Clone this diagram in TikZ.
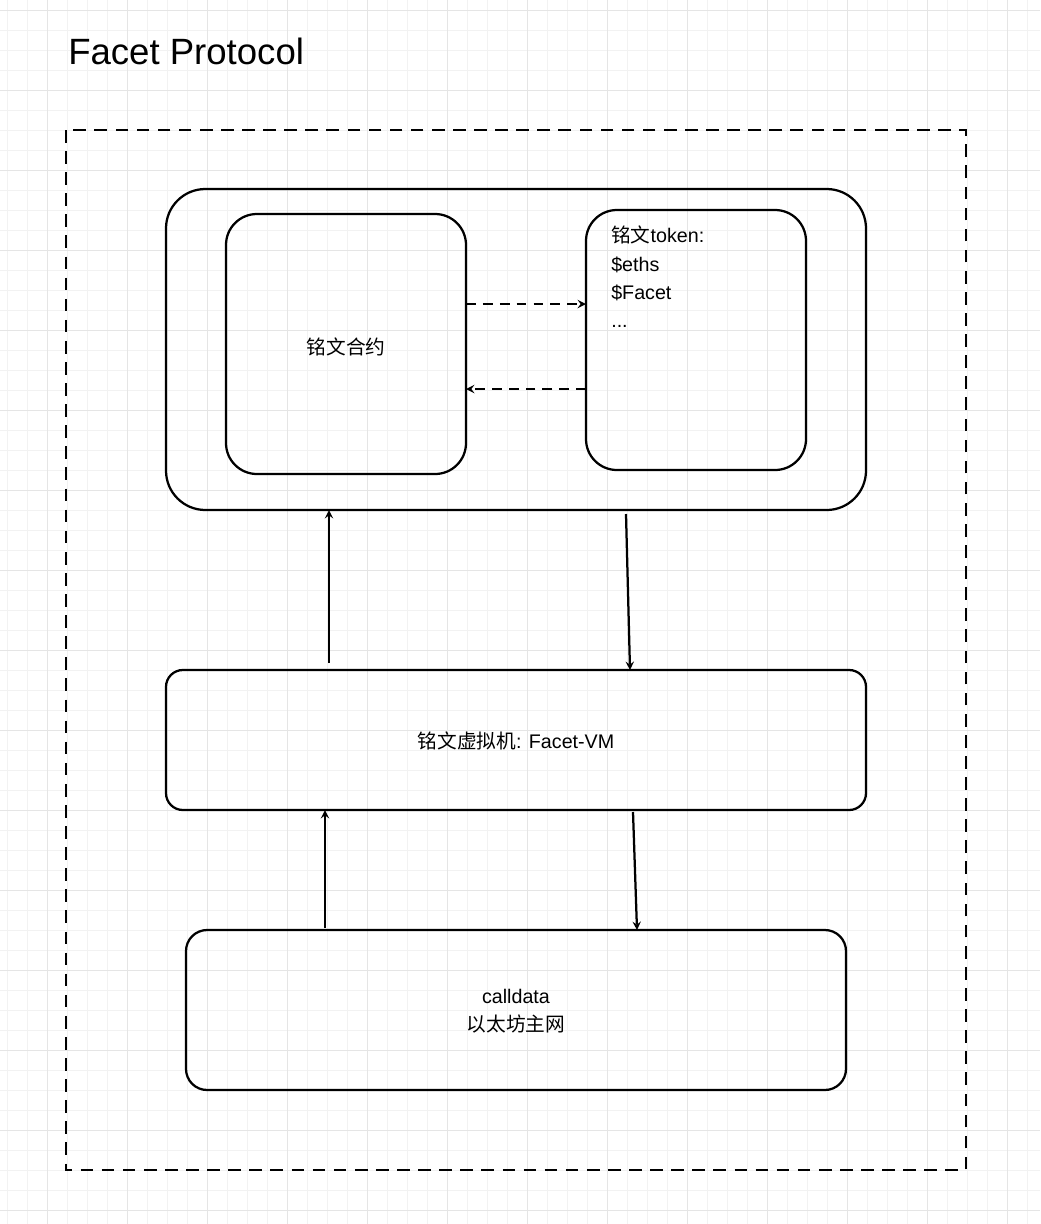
\documentclass[tikz,border=0pt]{standalone}
\usepackage{fontspec}
\setmainfont{Liberation Sans}
\newfontfamily\cjk{Noto Sans CJK SC}
\usetikzlibrary{positioning}
\newcommand{\zh}[1]{{\cjk #1}}
\begin{document}
\begin{tikzpicture}[x=0.025cm,y=-0.025cm,
    box/.style={draw, line width=1.6pt, rounded corners=#1},
    box/.default={15pt},
    flow/.style={->, >=stealth, line width=1.6pt},
    txt/.style={font=\fontsize{14}{20}\selectfont, align=center}]
    \useasboundingbox (0,0) rectangle (1040,1224);
    % background grid
    \foreach \x in {7,27,...,1040} {\draw[black!5, line width=0.5pt] (\x,0) -- (\x,1224);}
    \foreach \y in {10,30,...,1224} {\draw[black!5, line width=0.5pt] (0,\y) -- (1040,\y);}
    \foreach \x in {47,127,...,1040} {\draw[black!10, line width=0.7pt] (\x,0) -- (\x,1224);}
    \foreach \y in {10,90,...,1224} {\draw[black!10, line width=0.7pt] (0,\y) -- (1040,\y);}
    \node[anchor=base west, inner sep=0pt, font=\fontsize{26}{30}\selectfont] (title) at (68,64) {Facet Protocol};
    \draw[line width=1.6pt, dash pattern=on 9pt off 6pt] (66,130) rectangle (966,1170);
    % top container
    \draw[box=28pt] (166,189) rectangle (866,510);
    \coordinate (topin) at (329,510);
    \coordinate (topout) at (626,514);
    \draw[box=22pt] (226,214) rectangle (466,474);
    \node[txt] (contract) at (346,347) {\zh{铭文合约}};
    \draw[box=22pt] (586,210) rectangle (806,470);
    \node[anchor=north west, inner sep=0pt, align=left, font=\fontsize{14}{20}\selectfont] (token) at (611,226)
        {\zh{铭文}token:\\\$eths\\\$Facet\\...};
    \coordinate (c1) at (466,304); \coordinate (t1) at (586,304);
    \coordinate (c2) at (466,389); \coordinate (t2) at (586,389);
    \draw[flow, dashed, dash pattern=on 7pt off 5pt] (c1) -- (t1);
    \draw[flow, dashed, dash pattern=on 7pt off 5pt] (t2) -- (c2);
    % vm
    \draw[box=12pt] (166,670) rectangle (866,810);
    \node[txt] (vm) at (516,741) {\zh{铭文虚拟机}: Facet-VM};
    \coordinate (vmtop) at (329,663); \coordinate (vmin) at (630,670);
    \coordinate (vmbot) at (325,810); \coordinate (vmout) at (633,812);
    % calldata
    \draw[box=15pt] (186,930) rectangle (846,1090);
    \node[txt] (calldata) at (516,1011) {calldata\\\zh{以太坊主网}};
    \coordinate (cdtop) at (325,928); \coordinate (cdin) at (637,930);
    \draw[flow] (vmtop) -- (topin);
    \draw[flow] (topout) -- (vmin);
    \draw[flow] (cdtop) -- (vmbot);
    \draw[flow] (vmout) -- (cdin);
\end{tikzpicture}
\end{document}
